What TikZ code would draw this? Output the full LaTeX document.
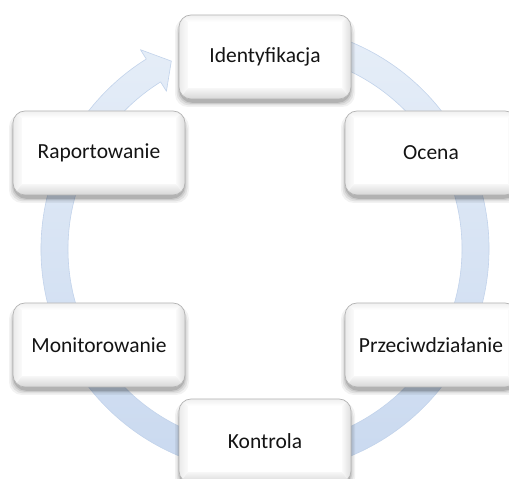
\documentclass[tikz,border=0pt]{standalone}
\usepackage{fontspec}
\setmainfont{Carlito}
\usetikzlibrary{calc}
\definecolor{ringtop}{HTML}{E6EEF8}
\definecolor{ringbot}{HTML}{C8D8EF}
\definecolor{ringedge}{HTML}{C2D3EB}
\definecolor{boxedge}{HTML}{B4B4B4}
\tikzset{
  boxtext/.style={font=\fontsize{21.5}{25}\selectfont, text=black!92, inner sep=0pt,
    minimum width=172pt, minimum height=84pt},
  boxline/.style={draw=boxedge, line width=0.7pt},
}
\newcommand\bevbox[4]{%
  \pgfmathsetmacro\bxl{#2-86}\pgfmathsetmacro\bxr{#2+86}%
  \pgfmathsetmacro\byb{#3-42}\pgfmathsetmacro\byt{#3+42}%
  \pgfmathsetmacro\ixl{\bxl+9}\pgfmathsetmacro\ixr{\bxr-9}%
  \pgfmathsetmacro\iyb{\byb+11}\pgfmathsetmacro\iyt{\byt-7}%
  \foreach \s/\o in {5/0.05,3.5/0.07,2/0.09,0.8/0.12}{%
    \fill[black,opacity=\o,rounded corners=13] (\bxl-\s+1,\byb-\s-3) rectangle (\bxr+\s-1,\byt+\s-8);}
  \begin{scope}
    \clip[rounded corners=12] (\bxl,\byb) rectangle (\bxr,\byt);
    \fill[white] (\bxl,\byb) rectangle (\bxr,\byt);
    \shade[top color=gray!12, bottom color=white] (\bxl,\byt)--(\bxr,\byt)--(\ixr,\iyt)--(\ixl,\iyt)--cycle;
    \shade[top color=gray!6, bottom color=gray!32] (\bxl,\byb)--(\bxr,\byb)--(\ixr,\iyb)--(\ixl,\iyb)--cycle;
    \shade[left color=gray!16, right color=gray!3] (\bxl,\byb)--(\bxl,\byt)--(\ixl,\iyt)--(\ixl,\iyb)--cycle;
    \shade[left color=gray!4, right color=gray!26] (\bxr,\byb)--(\bxr,\byt)--(\ixr,\iyt)--(\ixr,\iyb)--cycle;
  \end{scope}
  \fill[white] (\ixl,\iyb) rectangle (\ixr,\iyt);
  \draw[boxline, rounded corners=12] (\bxl,\byb) rectangle (\bxr,\byt);
  \node[boxtext] (#1) at (#2,#3) {#4};
}
\begin{document}
\begin{tikzpicture}[x=1pt,y=1pt]
  \clip (0,0) rectangle (509,479);
  \useasboundingbox (0,0) rectangle (509,479);
  \fill[white] (0,0) rectangle (509,479);
  \coordinate (C) at (265,230);
  % circular arrow
  \shade[top color=ringtop, bottom color=ringbot, draw=ringedge, line width=0.6pt, line join=round]
    ($(C)+(80:224)$) arc[start angle=80, end angle=-238, radius=224]
    -- ($(C)+(122:235)$) -- ($(C)+(116.5:210)$) -- ($(C)+(122:186)$)
    -- ($(C)+(122:197)$) arc[start angle=122, end angle=440, radius=197] -- cycle;
  % boxes
  \bevbox{ident}{265}{422}{Identyfikacja}
  \bevbox{ocena}{431}{326}{Ocena}
  \bevbox{przec}{431}{134}{Przeciwdziałanie}
  \bevbox{kontr}{265}{38}{Kontrola}
  \bevbox{monit}{99}{134}{Monitorowanie}
  \bevbox{raport}{99}{326}{Raportowanie}
\end{tikzpicture}
\end{document}
